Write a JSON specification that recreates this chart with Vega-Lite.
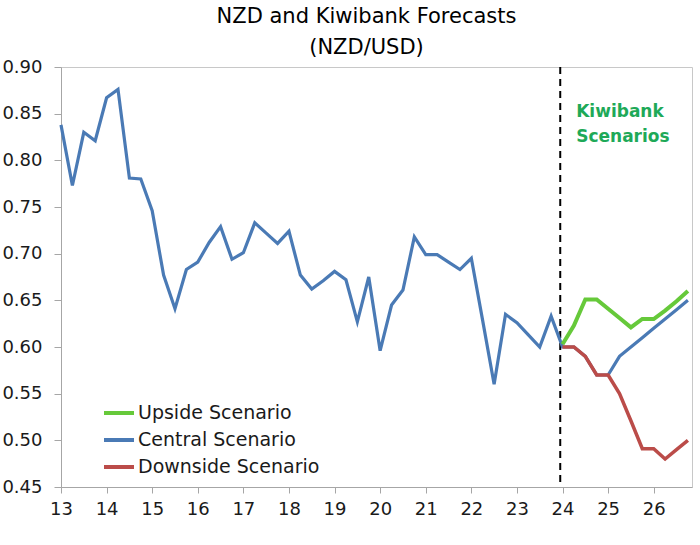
{
  "$schema": "https://vega.github.io/schema/vega-lite/v6.json",
  "width": 631,
  "height": 420,
  "autosize": {"type": "none"},
  "padding": {"left": 61, "top": 67, "right": 8, "bottom": 58},
  "background": "white",
  "title": {
    "text": ["NZD and Kiwibank Forecasts", "(NZD/USD)"],
    "font": "DejaVu Sans",
    "fontSize": 21,
    "fontWeight": "normal",
    "color": "#000000",
    "lineHeight": 31,
    "offset": 0,
    "dx": -10,
    "anchor": "middle"
  },
  "config": {
    "view": {"stroke": "#c8c8c8", "strokeWidth": 1},
    "axis": {
      "labelFont": "DejaVu Sans",
      "labelFontSize": 18,
      "labelColor": "#1a1a1a",
      "domainColor": "#a6a6a6",
      "tickColor": "#a6a6a6",
      "grid": false,
      "title": null
    },
    "legend": {
      "labelFont": "DejaVu Sans",
      "labelFontSize": 19,
      "labelColor": "#1a1a1a",
      "labelLimit": 400
    }
  },
  "datasets": {
    "fx": [
      {"t": 13.0, "v": 0.838, "series": "Central Scenario"},
      {"t": 13.25, "v": 0.773, "series": "Central Scenario"},
      {"t": 13.5, "v": 0.830, "series": "Central Scenario"},
      {"t": 13.75, "v": 0.821, "series": "Central Scenario"},
      {"t": 14.0, "v": 0.867, "series": "Central Scenario"},
      {"t": 14.25, "v": 0.876, "series": "Central Scenario"},
      {"t": 14.5, "v": 0.781, "series": "Central Scenario"},
      {"t": 14.75, "v": 0.780, "series": "Central Scenario"},
      {"t": 15.0, "v": 0.746, "series": "Central Scenario"},
      {"t": 15.25, "v": 0.677, "series": "Central Scenario"},
      {"t": 15.5, "v": 0.641, "series": "Central Scenario"},
      {"t": 15.75, "v": 0.683, "series": "Central Scenario"},
      {"t": 16.0, "v": 0.691, "series": "Central Scenario"},
      {"t": 16.25, "v": 0.712, "series": "Central Scenario"},
      {"t": 16.5, "v": 0.729, "series": "Central Scenario"},
      {"t": 16.75, "v": 0.694, "series": "Central Scenario"},
      {"t": 17.0, "v": 0.701, "series": "Central Scenario"},
      {"t": 17.25, "v": 0.733, "series": "Central Scenario"},
      {"t": 17.5, "v": 0.722, "series": "Central Scenario"},
      {"t": 17.75, "v": 0.711, "series": "Central Scenario"},
      {"t": 18.0, "v": 0.724, "series": "Central Scenario"},
      {"t": 18.25, "v": 0.677, "series": "Central Scenario"},
      {"t": 18.5, "v": 0.662, "series": "Central Scenario"},
      {"t": 18.75, "v": 0.671, "series": "Central Scenario"},
      {"t": 19.0, "v": 0.681, "series": "Central Scenario"},
      {"t": 19.25, "v": 0.672, "series": "Central Scenario"},
      {"t": 19.5, "v": 0.627, "series": "Central Scenario"},
      {"t": 19.75, "v": 0.675, "series": "Central Scenario"},
      {"t": 20.0, "v": 0.596, "series": "Central Scenario"},
      {"t": 20.25, "v": 0.645, "series": "Central Scenario"},
      {"t": 20.5, "v": 0.661, "series": "Central Scenario"},
      {"t": 20.75, "v": 0.718, "series": "Central Scenario"},
      {"t": 21.0, "v": 0.699, "series": "Central Scenario"},
      {"t": 21.25, "v": 0.699, "series": "Central Scenario"},
      {"t": 21.5, "v": 0.691, "series": "Central Scenario"},
      {"t": 21.75, "v": 0.683, "series": "Central Scenario"},
      {"t": 22.0, "v": 0.695, "series": "Central Scenario"},
      {"t": 22.25, "v": 0.628, "series": "Central Scenario"},
      {"t": 22.5, "v": 0.560, "series": "Central Scenario"},
      {"t": 22.75, "v": 0.635, "series": "Central Scenario"},
      {"t": 23.0, "v": 0.626, "series": "Central Scenario"},
      {"t": 23.25, "v": 0.613, "series": "Central Scenario"},
      {"t": 23.5, "v": 0.600, "series": "Central Scenario"},
      {"t": 23.75, "v": 0.633, "series": "Central Scenario"},
      {"t": 24.0, "v": 0.600, "series": "Central Scenario"},
      {"t": 24.25, "v": 0.600, "series": "Central Scenario"},
      {"t": 24.5, "v": 0.590, "series": "Central Scenario"},
      {"t": 24.75, "v": 0.570, "series": "Central Scenario"},
      {"t": 25.0, "v": 0.570, "series": "Central Scenario"},
      {"t": 25.25, "v": 0.590, "series": "Central Scenario"},
      {"t": 25.5, "v": 0.600, "series": "Central Scenario"},
      {"t": 25.75, "v": 0.610, "series": "Central Scenario"},
      {"t": 26.0, "v": 0.620, "series": "Central Scenario"},
      {"t": 26.25, "v": 0.630, "series": "Central Scenario"},
      {"t": 26.5, "v": 0.640, "series": "Central Scenario"},
      {"t": 26.75, "v": 0.650, "series": "Central Scenario"},
      {"t": 24.0, "v": 0.600, "series": "Downside Scenario"},
      {"t": 24.25, "v": 0.600, "series": "Downside Scenario"},
      {"t": 24.5, "v": 0.590, "series": "Downside Scenario"},
      {"t": 24.75, "v": 0.570, "series": "Downside Scenario"},
      {"t": 25.0, "v": 0.570, "series": "Downside Scenario"},
      {"t": 25.25, "v": 0.550, "series": "Downside Scenario"},
      {"t": 25.5, "v": 0.521, "series": "Downside Scenario"},
      {"t": 25.75, "v": 0.491, "series": "Downside Scenario"},
      {"t": 26.0, "v": 0.491, "series": "Downside Scenario"},
      {"t": 26.25, "v": 0.480, "series": "Downside Scenario"},
      {"t": 26.5, "v": 0.490, "series": "Downside Scenario"},
      {"t": 26.75, "v": 0.500, "series": "Downside Scenario"},
      {"t": 24.0, "v": 0.603, "series": "Upside Scenario"},
      {"t": 24.25, "v": 0.623, "series": "Upside Scenario"},
      {"t": 24.5, "v": 0.651, "series": "Upside Scenario"},
      {"t": 24.75, "v": 0.651, "series": "Upside Scenario"},
      {"t": 25.0, "v": 0.641, "series": "Upside Scenario"},
      {"t": 25.25, "v": 0.631, "series": "Upside Scenario"},
      {"t": 25.5, "v": 0.621, "series": "Upside Scenario"},
      {"t": 25.75, "v": 0.630, "series": "Upside Scenario"},
      {"t": 26.0, "v": 0.630, "series": "Upside Scenario"},
      {"t": 26.25, "v": 0.639, "series": "Upside Scenario"},
      {"t": 26.5, "v": 0.649, "series": "Upside Scenario"},
      {"t": 26.75, "v": 0.660, "series": "Upside Scenario"}
    ]
  },
  "layer": [
    {
      "data": {"values": [{"t": 23.95}]},
      "mark": {"type": "rule", "color": "#000000", "strokeWidth": 2, "strokeDash": [7, 5]},
      "encoding": {
        "x": {"field": "t", "type": "quantitative", "scale": {"domain": [13, 26.84], "nice": false, "zero": false}}
      }
    },
    {
      "data": {"name": "fx"},
      "transform": [{"filter": "datum.series === 'Central Scenario'"}],
      "mark": {"type": "line", "strokeWidth": 3.2, "strokeJoin": "miter"},
      "encoding": {
        "x": {"field": "t", "type": "quantitative"},
        "y": {"field": "v", "type": "quantitative"},
        "color": {"field": "series", "type": "nominal"}
      }
    },
    {
      "data": {"name": "fx"},
      "transform": [{"filter": "datum.series === 'Downside Scenario'"}],
      "mark": {"type": "line", "strokeWidth": 3.5, "strokeJoin": "miter"},
      "encoding": {
        "x": {"field": "t", "type": "quantitative"},
        "y": {"field": "v", "type": "quantitative"},
        "color": {"field": "series", "type": "nominal"}
      }
    },
    {
      "data": {"name": "fx"},
      "transform": [{"filter": "datum.series === 'Upside Scenario'"}],
      "mark": {"type": "line", "strokeWidth": 4, "strokeJoin": "miter"},
      "encoding": {
        "x": {
          "field": "t", "type": "quantitative",
          "scale": {"domain": [13, 26.84], "nice": false, "zero": false},
          "axis": {"values": [13,14,15,16,17,18,19,20,21,22,23,24,25,26], "format": "d", "tickSize": 6, "labelPadding": 7, "labelFlush": false}
        },
        "y": {
          "field": "v", "type": "quantitative",
          "scale": {"domain": [0.45, 0.9], "nice": false, "zero": false},
          "axis": {"values": [0.45,0.5,0.55,0.6,0.65,0.7,0.75,0.8,0.85,0.9], "format": ".2f", "tickSize": 7, "labelPadding": 12}
        },
        "color": {
          "field": "series", "type": "nominal",
          "scale": {
            "domain": ["Upside Scenario", "Central Scenario", "Downside Scenario"],
            "range": ["#66c93a", "#4a7ab5", "#bb4c49"]
          },
          "legend": {
            "title": null,
            "orient": "none",
            "legendX": 41,
            "legendY": 329,
            "symbolType": "stroke",
            "symbolSize": 900,
            "symbolStrokeWidth": 4,
            "labelOffset": 2,
            "rowPadding": 0
          }
        }
      }
    },
    {
      "data": {"values": [{"t": 24.3, "v": 0.852, "label": "Kiwibank\nScenarios"}]},
      "mark": {"type": "text", "align": "left", "baseline": "middle", "lineBreak": "\n", "lineHeight": 25, "font": "DejaVu Sans", "fontWeight": "bold", "fontSize": 17, "color": "#1ea958"},
      "encoding": {
        "x": {"field": "t", "type": "quantitative"},
        "y": {"field": "v", "type": "quantitative"},
        "text": {"field": "label"}
      }
    }
  ]
}
